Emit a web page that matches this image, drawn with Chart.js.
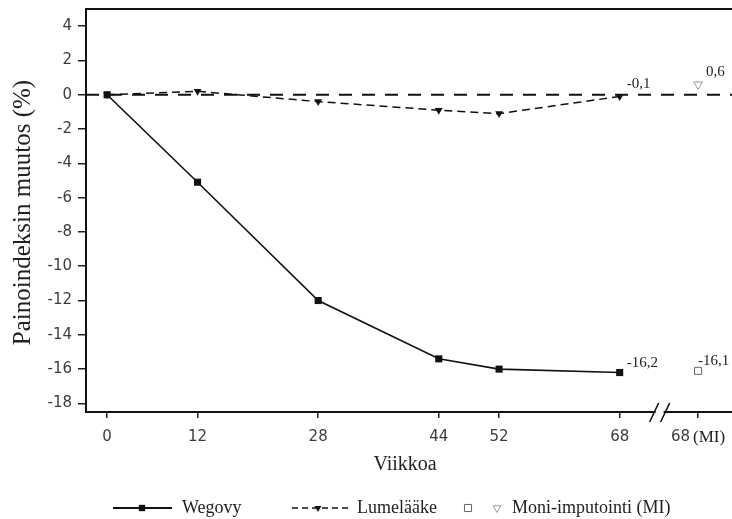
<!DOCTYPE html>
<html>
<head>
<meta charset="utf-8">
<script src="https://cdn.jsdelivr.net/npm/chart.js@4"></script>
<style>
  html, body { margin: 0; padding: 0; background: #fff; overflow: hidden; }
  #wrap { width: 732px; height: 519px; position: relative; }
</style>
</head>
<body>
<div id="wrap"><canvas id="c"></canvas></div>
<script>
// ---- data ----
const WEEKS = [0, 12, 28, 44, 52, 68];
const WEGOVY = [0, -5.1, -12.0, -15.4, -16.0, -16.2];
const PLACEBO = [0, 0.2, -0.4, -0.9, -1.1, -0.1];

const MI_WEEK = 78.4;          // "68 (MI)" slot, after the axis break
const MI_WEGOVY = -16.1;
const MI_PLACEBO = 0.6;

const X_TICKS = [0, 12, 28, 44, 52, 68, MI_WEEK];
const X_TICK_LABELS = ["0", "12", "28", "44", "52", "68", "68"];
const Y_TICKS = [4, 2, 0, -2, -4, -6, -8, -10, -12, -14, -16, -18];

const X_MIN = -2.8, X_MAX = 82.9;
const Y_MIN = -18.5, Y_MAX = 5;
const BREAK_AT = 73.3;

const Y_TITLE = "Painoindeksin muutos (%)";
const X_TITLE = "Viikkoa";
const LEGEND_WEGOVY = "Wegovy";
const LEGEND_PLACEBO = "Lumelääke";
const LEGEND_MI = "Moni-imputointi (MI)";

const SERIF = '"Liberation Serif", "DejaVu Serif", serif';
const SANS = '"DejaVu Sans", sans-serif';

function fmt(v) { return v.toFixed(1).replace(".", ","); }
function pts(xs, ys) { return xs.map((x, i) => ({ x: x, y: ys[i] })); }

// ---- extra drawing: frame top, break mark, MI tick label, titles, value labels, legend ----
const decor = {
  id: "decor",
  afterDraw(chart) {
    const ctx = chart.ctx;
    const ca = chart.chartArea;
    const xs = chart.scales.x, ys = chart.scales.y;
    ctx.save();

    // top frame line
    ctx.strokeStyle = "#111";
    ctx.lineWidth = 2;
    ctx.beginPath();
    ctx.moveTo(ca.left - 1, ca.top);
    ctx.lineTo(ca.right, ca.top);
    ctx.stroke();

    // axis break "//"
    const bx = xs.getPixelForValue(BREAK_AT);
    const by = ca.bottom;
    ctx.fillStyle = "#fff";
    ctx.fillRect(bx - 4, by - 3, 8, 6);
    ctx.strokeStyle = "#111";
    ctx.lineWidth = 1.6;
    ctx.beginPath();
    ctx.moveTo(bx - 10, by + 10); ctx.lineTo(bx - 1, by - 9);
    ctx.moveTo(bx + 1, by + 10); ctx.lineTo(bx + 10, by - 9);
    ctx.stroke();

    // "68 (MI)" tick label
    const mx = xs.getPixelForValue(MI_WEEK);
    ctx.textBaseline = "middle";
    ctx.font = "15px " + SANS;
    const a = "68";
    const wa = ctx.measureText(a).width;
    ctx.font = "17px " + SERIF;
    const b = "(MI)";
    const wb = ctx.measureText(b).width;
    const gap = 3;
    const sx = mx - (wa + gap + wb) / 2;
    ctx.textAlign = "left";
    ctx.fillStyle = "#3c3c3c";
    ctx.font = "15px " + SANS;
    ctx.fillText(a, sx, 437);
    ctx.fillStyle = "#222";
    ctx.font = "17px " + SERIF;
    ctx.fillText(b, sx + wa + gap, 438);

    // axis titles
    ctx.fillStyle = "#222";
    ctx.textAlign = "center";
    ctx.font = "20px " + SERIF;
    ctx.fillText(X_TITLE, (ca.left + ca.right) / 2 - 4, 465);
    ctx.save();
    ctx.translate(23, (ca.top + ca.bottom) / 2 + 2);
    ctx.rotate(-Math.PI / 2);
    ctx.font = "25px " + SERIF;
    ctx.fillText(Y_TITLE, 0, 0);
    ctx.restore();

    // end value labels
    ctx.font = "15px " + SERIF;
    ctx.textAlign = "left";
    ctx.fillStyle = "#222";
    const last = WEEKS.length - 1;
    const lab = [
      [WEEKS[last], WEGOVY[last], 7, -9],
      [WEEKS[last], PLACEBO[last], 7, -12],
      [MI_WEEK, MI_WEGOVY, 0, -10],
      [MI_WEEK, MI_PLACEBO, 8, -12]
    ];
    lab.forEach(l => {
      const px = xs.getPixelForValue(l[0]);
      const py = ys.getPixelForValue(l[1]);
      ctx.fillText(fmt(l[1]), px + l[2], py + l[3]);
    });

    // legend
    const ly = 508;
    ctx.font = "18px " + SERIF;
    ctx.strokeStyle = "#111";
    // Wegovy
    ctx.lineWidth = 2;
    ctx.setLineDash([]);
    ctx.beginPath(); ctx.moveTo(113, ly); ctx.lineTo(172, ly); ctx.stroke();
    ctx.fillStyle = "#111";
    Chart.helpers.drawPoint(ctx, { pointStyle: "rect", radius: 4.5, rotation: 0, borderWidth: 0 }, 142, ly);
    ctx.fillStyle = "#222";
    ctx.fillText(LEGEND_WEGOVY, 182, ly);
    // Lumelääke
    ctx.lineWidth = 1.6;
    ctx.setLineDash([6, 4]);
    ctx.beginPath(); ctx.moveTo(292, ly); ctx.lineTo(348, ly); ctx.stroke();
    ctx.setLineDash([]);
    ctx.fillStyle = "#111";
    Chart.helpers.drawPoint(ctx, { pointStyle: "triangle", radius: 4, rotation: 180, borderWidth: 0 }, 318, ly);
    ctx.fillStyle = "#222";
    ctx.fillText(LEGEND_PLACEBO, 357, ly);
    // MI
    ctx.fillStyle = "#fff";
    ctx.strokeStyle = "#666";
    ctx.lineWidth = 1;
    Chart.helpers.drawPoint(ctx, { pointStyle: "rect", radius: 5, rotation: 0, borderWidth: 1 }, 468, ly);
    ctx.strokeStyle = "#999";
    Chart.helpers.drawPoint(ctx, { pointStyle: "triangle", radius: 4.5, rotation: 180, borderWidth: 1 }, 497, ly);
    ctx.fillStyle = "#222";
    ctx.fillText(LEGEND_MI, 512, ly);

    ctx.restore();
  }
};

const tickGrid = {
  drawOnChartArea: false,
  drawTicks: true,
  color: "#222",
  lineWidth: 1.5
};

new Chart(document.getElementById("c"), {
  type: "line",
  data: {
    datasets: [
      {
        label: "ref",
        data: [{ x: X_MIN, y: 0 }, { x: X_MAX, y: 0 }],
        borderColor: "#111",
        borderWidth: 2,
        borderDash: [13, 10],
        pointRadius: 0
      },
      {
        label: LEGEND_WEGOVY,
        data: pts(WEEKS, WEGOVY),
        borderColor: "#111",
        backgroundColor: "#111",
        borderWidth: 1.6,
        pointStyle: "rect",
        pointRadius: 5,
        pointBorderWidth: 0,
        tension: 0
      },
      {
        label: LEGEND_PLACEBO,
        data: pts(WEEKS, PLACEBO),
        borderColor: "#111",
        backgroundColor: "#111",
        borderWidth: 1.5,
        borderDash: [8, 5],
        pointStyle: "triangle",
        pointRotation: 180,
        pointRadius: 4.5,
        pointBorderWidth: 0,
        tension: 0
      },
      {
        label: "MI Wegovy",
        data: [{ x: MI_WEEK, y: MI_WEGOVY }],
        showLine: false,
        borderColor: "#666",
        backgroundColor: "#fff",
        pointStyle: "rect",
        pointRadius: 5,
        pointBorderWidth: 1
      },
      {
        label: "MI Lumelääke",
        data: [{ x: MI_WEEK, y: MI_PLACEBO }],
        showLine: false,
        borderColor: "#999",
        backgroundColor: "#fff",
        pointStyle: "triangle",
        pointRotation: 180,
        pointRadius: 5,
        pointBorderWidth: 1
      }
    ]
  },
  options: {
    responsive: true,
    maintainAspectRatio: false,
    animation: false,
    layout: { autoPadding: false, padding: { top: 9, left: 0, right: 0, bottom: 0 } },
    plugins: { legend: { display: false }, tooltip: { enabled: false } },
    scales: {
      x: {
        type: "linear",
        min: X_MIN,
        max: X_MAX,
        afterBuildTicks: (s) => { s.ticks = X_TICKS.map(v => ({ value: v })); },
        afterFit: (s) => { s.height = 107; s.paddingLeft = 0; s.paddingRight = 0; },
        grid: Object.assign({}, tickGrid, { tickLength: 6 }),
        border: { display: true, color: "#111", width: 2 },
        ticks: {
          autoSkip: false,
          maxRotation: 0,
          padding: 10,
          color: "#3c3c3c",
          font: { family: SANS, size: 15 },
          callback: (v) => {
            const i = X_TICKS.indexOf(v);
            if (v === MI_WEEK) return "";
            return i >= 0 ? X_TICK_LABELS[i] : "";
          }
        }
      },
      y: {
        min: Y_MIN,
        max: Y_MAX,
        afterBuildTicks: (s) => { s.ticks = Y_TICKS.map(v => ({ value: v })); },
        afterFit: (s) => { s.width = 86; s.paddingTop = 0; s.paddingBottom = 0; },
        grid: Object.assign({}, tickGrid, { tickLength: 8 }),
        border: { display: true, color: "#111", width: 2 },
        ticks: {
          autoSkip: false,
          padding: 6,
          color: "#3c3c3c",
          font: { family: SANS, size: 15 },
          callback: (v) => String(v)
        }
      }
    }
  },
  plugins: [decor]
});
</script>
</body>
</html>
